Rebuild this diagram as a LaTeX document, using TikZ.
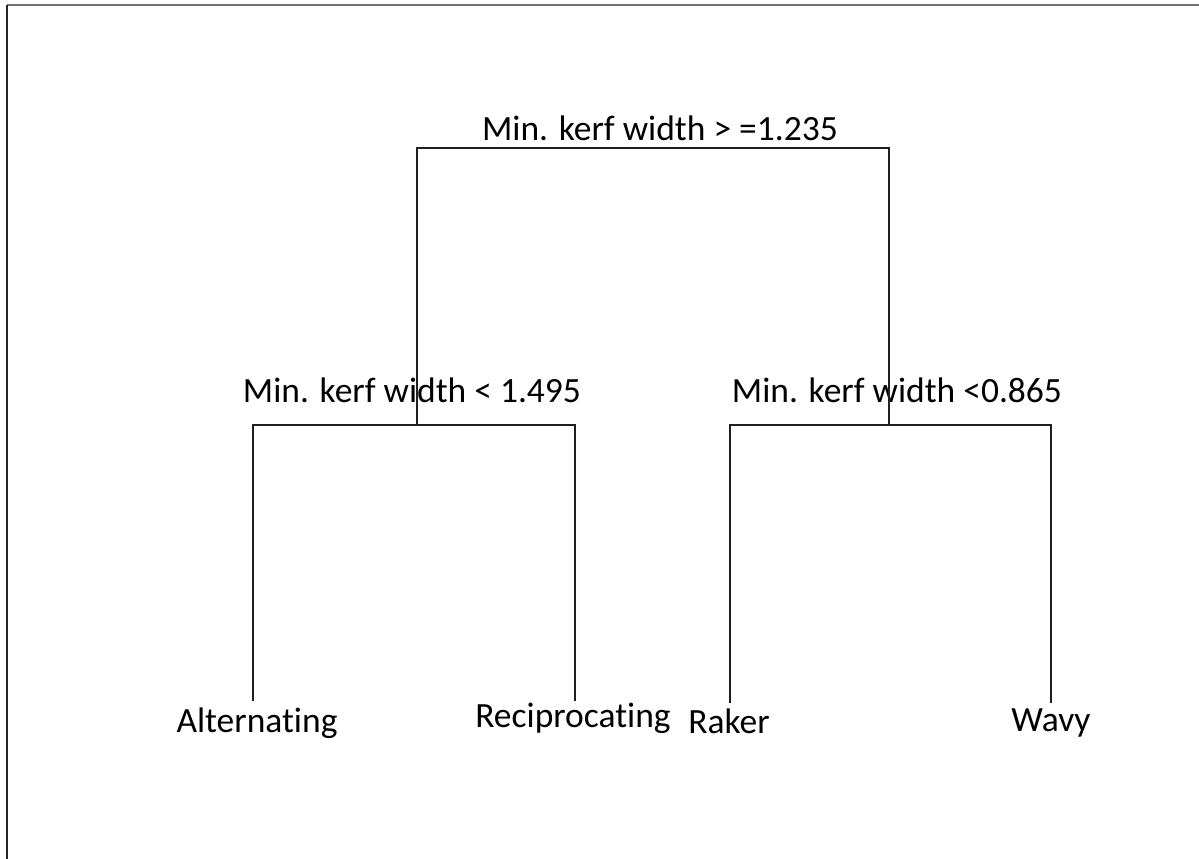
\documentclass[tikz,border=0pt]{standalone}
\usepackage{fontspec}
\setmainfont{Carlito}[Ligatures={NoCommon}]
\begin{document}
\begin{tikzpicture}[x=1pt,y=-1pt,
  lbl/.style={inner sep=0pt,anchor=base,font=\fontsize{35.5}{40}\selectfont},
  branch/.style={line width=2.6pt,draw=black!88,line cap=rect,line join=miter}]
\useasboundingbox (0,0) rectangle (1199,859);
% page frame (top and left edges only)
\draw[line width=1.5pt,black!55] (7,5) -- (1199,5);
\draw[line width=2pt,black!85] (7,5) -- (7,859);

% split points and leaf ends
\coordinate (rootL) at (417,148);
\coordinate (rootR) at (889,148);
\coordinate (aL) at (417,425);
\coordinate (aR) at (889,425);
\coordinate (l1) at (253,425);
\coordinate (l2) at (575,425);
\coordinate (r1) at (730,425);
\coordinate (r2) at (1051,425);
\coordinate (e1) at (253,700);
\coordinate (e2) at (575,700);
\coordinate (e3) at (730,702);
\coordinate (e4) at (1051,702);

% labels
\node[lbl] (root) at (660,140) {Min. kerf width > =1.235};
\node[lbl] (left) at (412,402) {Min. kerf width < 1.495};
\node[lbl] (right) at (897,402) {Min. kerf width <0.865};
\node[lbl] (alt) at (257,732) {Alternating};
\node[lbl] (rec) at (573,727) {Reciprocating};
\node[lbl] (rak) at (729,733) {Raker};
\node[lbl] (wav) at (1051,731) {Wavy};

% tree branches
\draw[branch] (aL) -- (rootL) -- (rootR) -- (aR);
\draw[branch] (e1) -- (l1) -- (l2) -- (e2);
\draw[branch] (e3) -- (r1) -- (r2) -- (e4);
\end{tikzpicture}
\end{document}
